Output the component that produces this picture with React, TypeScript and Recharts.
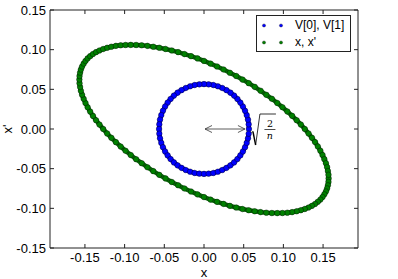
import { Legend, ReferenceDot, ReferenceLine, Scatter, ScatterChart, XAxis, YAxis } from "recharts"

// blue ring: V[0] vs V[1]
const circleX = [
  0.0566, 0.0563, 0.0554, 0.0538, 0.0517, 0.049, 0.0458, 0.0421, 0.0379, 0.0333, 0.0283, 0.023, 0.0175, 0.0118, 0.0059,
  0, -0.0059, -0.0118, -0.0175, -0.023, -0.0283, -0.0333, -0.0379, -0.0421, -0.0458, -0.049, -0.0517, -0.0538, -0.0554, -0.0563,
  -0.0566, -0.0563, -0.0554, -0.0538, -0.0517, -0.049, -0.0458, -0.0421, -0.0379, -0.0333, -0.0283, -0.023, -0.0175, -0.0118, -0.0059,
  0, 0.0059, 0.0118, 0.0175, 0.023, 0.0283, 0.0333, 0.0379, 0.0421, 0.0458, 0.049, 0.0517, 0.0538, 0.0554, 0.0563,
]
const circleY = [
  0, 0.0059, 0.0118, 0.0175, 0.023, 0.0283, 0.0333, 0.0379, 0.0421, 0.0458, 0.049, 0.0517, 0.0538, 0.0554, 0.0563,
  0.0566, 0.0563, 0.0554, 0.0538, 0.0517, 0.049, 0.0458, 0.0421, 0.0379, 0.0333, 0.0283, 0.023, 0.0175, 0.0118, 0.0059,
  0, -0.0059, -0.0118, -0.0175, -0.023, -0.0283, -0.0333, -0.0379, -0.0421, -0.0458, -0.049, -0.0517, -0.0538, -0.0554, -0.0563,
  -0.0566, -0.0563, -0.0554, -0.0538, -0.0517, -0.049, -0.0458, -0.0421, -0.0379, -0.0333, -0.0283, -0.023, -0.0175, -0.0118, -0.0059,
]

// green ellipse: x vs x'
const ellipseX = [
  0.157, 0.1568, 0.1561, 0.1551, 0.1536, 0.1516, 0.1493, 0.1466, 0.1434, 0.1399, 0.136, 0.1317, 0.127, 0.122, 0.1167,
  0.111, 0.105, 0.0988, 0.0923, 0.0855, 0.0785, 0.0713, 0.0639, 0.0563, 0.0485, 0.0406, 0.0326, 0.0246, 0.0164, 0.0082,
  0, -0.0082, -0.0164, -0.0246, -0.0326, -0.0406, -0.0485, -0.0563, -0.0639, -0.0713, -0.0785, -0.0855, -0.0923, -0.0988, -0.105,
  -0.111, -0.1167, -0.122, -0.127, -0.1317, -0.136, -0.1399, -0.1434, -0.1466, -0.1493, -0.1516, -0.1536, -0.1551, -0.1561, -0.1568,
  -0.157, -0.1568, -0.1561, -0.1551, -0.1536, -0.1516, -0.1493, -0.1466, -0.1434, -0.1399, -0.136, -0.1317, -0.127, -0.122, -0.1167,
  -0.111, -0.105, -0.0988, -0.0923, -0.0855, -0.0785, -0.0713, -0.0639, -0.0563, -0.0485, -0.0406, -0.0326, -0.0246, -0.0164, -0.0082,
  0, 0.0082, 0.0164, 0.0246, 0.0326, 0.0406, 0.0485, 0.0563, 0.0639, 0.0713, 0.0785, 0.0855, 0.0923, 0.0988, 0.105,
  0.111, 0.1167, 0.122, 0.127, 0.1317, 0.136, 0.1399, 0.1434, 0.1466, 0.1493, 0.1516, 0.1536, 0.1551, 0.1561, 0.1568,
]
const ellipseY = [
  -0.0623, -0.0667, -0.071, -0.0749, -0.0787, -0.0824, -0.0858, -0.089, -0.0918, -0.0945, -0.0969, -0.099, -0.1008, -0.1024, -0.1037,
  -0.1048, -0.1055, -0.1059, -0.106, -0.1059, -0.1055, -0.1048, -0.1037, -0.1024, -0.1009, -0.099, -0.0969, -0.0944, -0.0918, -0.089,
  -0.0858, -0.0824, -0.0788, -0.075, -0.0709, -0.0668, -0.0623, -0.0578, -0.0531, -0.0482, -0.0431, -0.0381, -0.0328, -0.0275, -0.0221,
  -0.0166, -0.0111, -0.0056, 0, 0.0056, 0.0111, 0.0165, 0.022, 0.0274, 0.0328, 0.038, 0.0431, 0.0481, 0.053, 0.0577,
  0.0623, 0.0667, 0.071, 0.0749, 0.0787, 0.0824, 0.0858, 0.089, 0.0918, 0.0945, 0.0969, 0.099, 0.1008, 0.1024, 0.1037,
  0.1048, 0.1055, 0.1059, 0.106, 0.1059, 0.1055, 0.1048, 0.1037, 0.1024, 0.1009, 0.099, 0.0969, 0.0944, 0.0918, 0.089,
  0.0858, 0.0824, 0.0788, 0.075, 0.0709, 0.0668, 0.0623, 0.0578, 0.0531, 0.0482, 0.0431, 0.0381, 0.0328, 0.0275, 0.0221,
  0.0166, 0.0111, 0.0056, 0, -0.0056, -0.0111, -0.0165, -0.022, -0.0274, -0.0328, -0.038, -0.0431, -0.0481, -0.053, -0.0577,
]

const xTicks = [-0.15, -0.1, -0.05, 0, 0.05, 0.1, 0.15]
const yTicks = [-0.15, -0.1, -0.05, 0, 0.05, 0.1, 0.15]
const xDomain = [-0.194, 0.194]
const yDomain = [-0.15, 0.15]

// sqrt(2/n), the ring radius
const arrowLength = 0.0566

const seriesNames = ["V[0], V[1]", "x, x'"]
const seriesColors = ["#0000ff", "#008000"]

const circleData = circleX.map((x, i) => ({ x, y: circleY[i] }))
const ellipseData = ellipseX.map((x, i) => ({ x, y: ellipseY[i] }))

const font = "'Liberation Sans', Arial, sans-serif"
const axisColor = "#222"
const fmt = (v: number) => v.toFixed(2)

function Dot({ cx, cy, fill }: any) {
  return <circle cx={cx} cy={cy} r={2.8} fill={fill} stroke="#000" strokeWidth={0.4} />
}

function DoubleArrow({ x1, y1, x2, y2 }: any) {
  const a = Math.min(x1, x2) + 1
  const b = Math.max(x1, x2) - 4
  const h = 7
  const w = 3.5
  return (
    <g stroke="#333" strokeWidth={0.8} fill="none">
      <line x1={a} y1={y1} x2={b} y2={y2} />
      <path d={`M${a + h},${y1 - w} L${a},${y1} L${a + h},${y1 + w}`} />
      <path d={`M${b - h},${y2 - w} L${b},${y2} L${b - h},${y2 + w}`} />
    </g>
  )
}

function SqrtLabel({ cx, cy }: any) {
  return (
    <g>
      <path d={`M${cx + 2.5},${cy + 3.5} L${cx + 4},${cy + 2.5}`} stroke="#000" strokeWidth={0.8} fill="none" />
      <path d={`M${cx + 4},${cy + 2.5} L${cx + 6.7},${cy + 16}`} stroke="#000" strokeWidth={1.4} fill="none" />
      <path d={`M${cx + 6.7},${cy + 16} L${cx + 11},${cy - 15} L${cx + 27},${cy - 15}`} stroke="#000" strokeWidth={0.8} fill="none" />
      <text x={cx + 21} y={cy - 2} textAnchor="middle" fontSize={9.5} fontFamily="'DejaVu Serif', serif">2</text>
      <line x1={cx + 15.5} y1={cy + 0.5} x2={cx + 26.5} y2={cy + 0.5} stroke="#000" strokeWidth={0.7} />
      <text x={cx + 21} y={cy + 10} textAnchor="middle" fontSize={9.5} fontStyle="italic" fontFamily="'DejaVu Serif', serif">n</text>
    </g>
  )
}

function LegendBox() {
  return (
    <div
      style={{
        width: 95,
        height: 37,
        boxSizing: "border-box",
        border: "1px solid #222",
        background: "#fff",
        fontFamily: font,
        fontSize: 12,
        paddingTop: 1,
      }}
    >
      {seriesNames.map((name, i) => (
        <div key={name} style={{ display: "flex", alignItems: "center", height: 17 }}>
          <svg width={38} height={17} style={{ display: "block" }}>
            <circle cx={7} cy={8.5} r={1.6} fill={seriesColors[i]} stroke="#000" strokeWidth={0.3} />
            <circle cx={24} cy={8.5} r={1.6} fill={seriesColors[i]} stroke="#000" strokeWidth={0.3} />
          </svg>
          <span style={{ lineHeight: "17px", color: "#000" }}>{name}</span>
        </div>
      ))}
    </div>
  )
}

export default function App() {
  const tickStyle = { fontSize: 13, fontFamily: font, fill: "#000" }
  return (
    <div style={{ position: "absolute", left: 0, top: 0, width: 398, height: 279, background: "#fff" }}>
      <ScatterChart width={398} height={279} margin={{ top: 0, right: 0, bottom: 0, left: 0 }}>
        <XAxis
          xAxisId={0}
          type="number"
          dataKey="x"
          domain={xDomain}
          allowDataOverflow
          ticks={xTicks}
          tickFormatter={fmt}
          height={31}
          tickSize={-4}
          tickMargin={9}
          tick={tickStyle}
          stroke={axisColor}
          tickLine={{ stroke: axisColor }}
          label={{ value: "x", position: "insideBottom", offset: 2, fontSize: 13, fontFamily: font, fill: "#000" }}
        />
        <XAxis
          xAxisId="top"
          orientation="top"
          type="number"
          dataKey="x"
          domain={xDomain}
          allowDataOverflow
          ticks={xTicks}
          tickFormatter={() => ""}
          height={10}
          tickSize={-4}
          stroke={axisColor}
          tickLine={{ stroke: axisColor }}
        />
        <YAxis
          yAxisId={0}
          type="number"
          dataKey="y"
          domain={yDomain}
          allowDataOverflow
          ticks={yTicks}
          tickFormatter={fmt}
          width={50}
          tickSize={-4}
          tickMargin={8}
          tick={tickStyle}
          stroke={axisColor}
          tickLine={{ stroke: axisColor }}
          label={{
            content: (p: any) => {
              const vb = p.viewBox
              const cx = 7
              const cy = vb.y + vb.height / 2
              return (
                <text
                  x={cx}
                  y={cy}
                  transform={`rotate(-90 ${cx} ${cy})`}
                  textAnchor="middle"
                  dominantBaseline="central"
                  fontSize={13}
                  fontFamily={font}
                  fill="#000"
                >
                  x'
                </text>
              )
            },
          }}
        />
        <YAxis
          yAxisId="right"
          orientation="right"
          type="number"
          dataKey="y"
          domain={yDomain}
          allowDataOverflow
          ticks={yTicks}
          tickFormatter={() => ""}
          width={40}
          tickSize={-4}
          stroke={axisColor}
          tickLine={{ stroke: axisColor }}
        />
        <Scatter
          name={seriesNames[0]}
          data={circleData}
          fill={seriesColors[0]}
          line={{ stroke: "#0000d0", strokeWidth: 4.5 }}
          isAnimationActive={false}
          shape={(p: any) => <Dot cx={p.cx} cy={p.cy} fill={seriesColors[0]} />}
        />
        <Scatter
          name={seriesNames[1]}
          data={ellipseData}
          fill={seriesColors[1]}
          line={{ stroke: "#0a6a0a", strokeWidth: 4.5 }}
          isAnimationActive={false}
          shape={(p: any) => <Dot cx={p.cx} cy={p.cy} fill={seriesColors[1]} />}
        />
        <ReferenceLine
          segment={[
            { x: 0, y: 0 },
            { x: arrowLength, y: 0 },
          ]}
          shape={(p: any) => <DoubleArrow {...p} />}
        />
        <ReferenceDot x={arrowLength} y={0} shape={(p: any) => <SqrtLabel cx={p.cx} cy={p.cy} />} />
        <Legend
          layout="vertical"
          align="center"
          verticalAlign="middle"
          content={() => <LegendBox />}
          wrapperStyle={{ left: 256, top: 15, width: 95, height: 37 }}
        />
      </ScatterChart>
    </div>
  )
}
